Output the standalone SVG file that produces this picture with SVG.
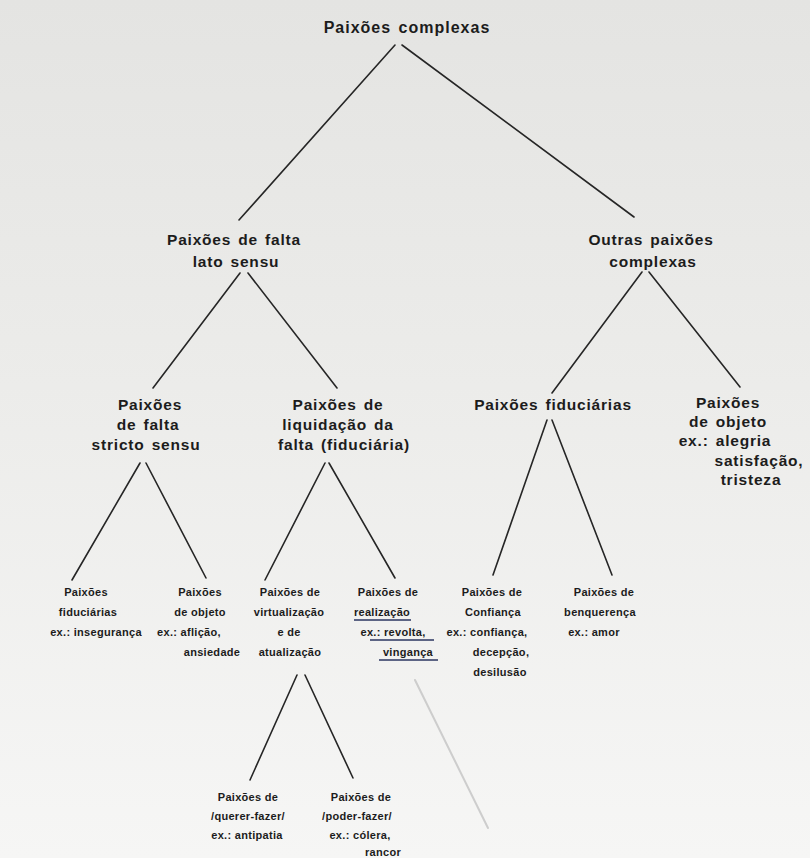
<svg xmlns="http://www.w3.org/2000/svg" width="810" height="858" viewBox="0 0 810 858">
<defs>
<linearGradient id="bg" x1="0" y1="0" x2="0" y2="1">
<stop offset="0" stop-color="#e4e4e2"/>
<stop offset="0.45" stop-color="#ececea"/>
<stop offset="1" stop-color="#f6f6f5"/>
</linearGradient>
</defs>
<style>
text{font-family:"Liberation Sans",Arial,sans-serif;font-weight:bold;fill:#1c1c1c;text-anchor:middle}
.t1{font-size:16px;letter-spacing:1px;word-spacing:2px}
.t2{font-size:15.5px;letter-spacing:0.8px;word-spacing:2px}
.lf{font-size:11px;letter-spacing:0.3px}
.c line{stroke:#262626;stroke-width:1.6;stroke-linecap:round}
.ul{stroke:#2a3560;stroke-width:1.3}
</style>
<rect x="0" y="0" width="810" height="858" fill="url(#bg)"/>
<g class="c" id="connectors">
<line x1="395" y1="45" x2="239" y2="220"/>
<line x1="402" y1="45" x2="634" y2="217"/>
<line x1="240" y1="273" x2="153" y2="388"/>
<line x1="248" y1="273" x2="337" y2="388"/>
<line x1="642" y1="272" x2="552" y2="393"/>
<line x1="649" y1="272" x2="740" y2="387"/>
<line x1="140" y1="463" x2="72" y2="580"/>
<line x1="146" y1="463" x2="206" y2="578"/>
<line x1="325" y1="463" x2="265" y2="580"/>
<line x1="329" y1="463" x2="395" y2="578"/>
<line x1="547" y1="420" x2="493" y2="575"/>
<line x1="552" y1="420" x2="612" y2="575"/>
<line x1="297" y1="675" x2="250" y2="780"/>
<line x1="305" y1="675" x2="353" y2="778"/>
</g>
<g id="n-root"><text class="t1" x="407" y="33">Paixões complexas</text></g>
<g id="n-falta-lato"><text class="t2" x="234" y="245">Paixões de falta</text><text class="t2" x="236" y="267">lato sensu</text></g>
<g id="n-outras"><text class="t2" x="651" y="245">Outras paixões</text><text class="t2" x="653" y="267">complexas</text></g>
<g id="n-falta-stricto"><text class="t2" x="150" y="410">Paixões</text><text class="t2" x="148" y="430">de falta</text><text class="t2" x="146" y="450">stricto sensu</text></g>
<g id="n-liquidacao"><text class="t2" x="338" y="410">Paixões de</text><text class="t2" x="338" y="430">liquidação da</text><text class="t2" x="344" y="450">falta (fiduciária)</text></g>
<g id="n-fiduciarias"><text class="t2" x="553" y="410">Paixões fiduciárias</text></g>
<g id="n-objeto"><text class="t2" x="728" y="408">Paixões</text><text class="t2" x="728" y="427">de objeto</text><text class="t2" x="725" y="446">ex.: alegria</text><text class="t2" x="759" y="466">satisfação,</text><text class="t2" x="751" y="485">tristeza</text></g>
<g id="n-leaf-fid"><text class="lf" x="86" y="596">Paixões</text><text class="lf" x="88" y="616">fiduciárias</text><text class="lf" x="96" y="636">ex.: insegurança</text></g>
<g id="n-leaf-obj"><text class="lf" x="200" y="596">Paixões</text><text class="lf" x="200" y="616">de objeto</text><text class="lf" x="189" y="636">ex.: aflição,</text><text class="lf" x="212" y="656">ansiedade</text></g>
<g id="n-leaf-virt"><text class="lf" x="290" y="596">Paixões de</text><text class="lf" x="289" y="616">virtualização</text><text class="lf" x="289" y="636">e de</text><text class="lf" x="290" y="656">atualização</text></g>
<g id="n-leaf-real"><text class="lf" x="388" y="596">Paixões de</text><text class="lf" x="382" y="616">realização</text><text class="lf" x="393" y="636">ex.: revolta,</text><text class="lf" x="408" y="656">vingança</text>
<line class="ul" x1="354" y1="620" x2="411" y2="620"/><line class="ul" x1="370" y1="640" x2="434" y2="640"/><line class="ul" x1="379" y1="660" x2="438" y2="660"/></g>
<g id="n-leaf-conf"><text class="lf" x="492" y="596">Paixões de</text><text class="lf" x="493" y="616">Confiança</text><text class="lf" x="487" y="636">ex.: confiança,</text><text class="lf" x="501" y="656">decepção,</text><text class="lf" x="500" y="676">desilusão</text></g>
<g id="n-leaf-benq"><text class="lf" x="604" y="596">Paixões de</text><text class="lf" x="600" y="616">benquerença</text><text class="lf" x="594" y="636">ex.: amor</text></g>
<g id="n-leaf-querer"><text class="lf" x="248" y="801">Paixões de</text><text class="lf" x="248" y="820">/querer-fazer/</text><text class="lf" x="247" y="839">ex.: antipatia</text></g>
<g id="n-leaf-poder"><text class="lf" x="361" y="801">Paixões de</text><text class="lf" x="357" y="820">/poder-fazer/</text><text class="lf" x="360" y="839">ex.: cólera,</text><text class="lf" x="383" y="856">rancor</text></g>
<line x1="415" y1="680" x2="488" y2="828" stroke="#c4c4c4" stroke-width="2" stroke-linecap="round" opacity="0.8"/>
</svg>
